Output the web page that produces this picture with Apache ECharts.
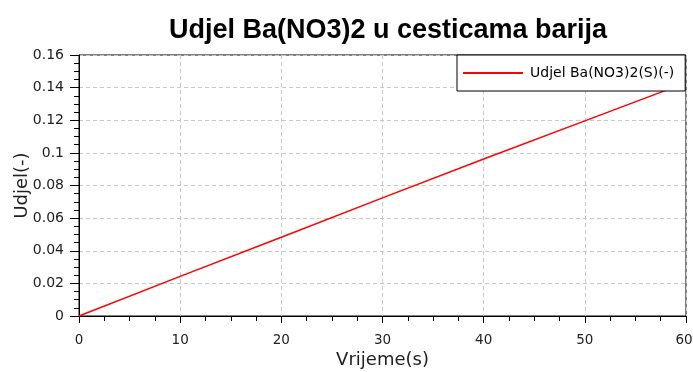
<!DOCTYPE html>
<html>
<head>
<meta charset="utf-8">
<script src="https://cdn.jsdelivr.net/npm/echarts@6/dist/echarts.min.js"></script>
<style>
  html, body { margin: 0; padding: 0; background: #fff; }
  #chart { width: 693px; height: 372px; }
</style>
</head>
<body>
<div id="chart"></div>
<script>
// Time (s) and fraction of Ba(NO3)2 in the barium particles
const timeS = [0, 10, 20, 30, 40, 50, 58];
const fraction = [0, 0.0243, 0.0483, 0.0724, 0.0962, 0.1196, 0.1383];
const seriesName = 'Udjel Ba(NO3)2(S)(-)';

const chart = echarts.init(document.getElementById('chart'));
const titleFont = 'Liberation Sans, Arial, sans-serif';
const font = 'DejaVu Sans, Verdana, sans-serif';
const X_MAX = 60;

chart.setOption({
  animation: false,
  title: {
    text: 'Udjel Ba(NO3)2 u cesticama barija',
    left: 383, top: 12, textAlign: 'center',
    textStyle: { fontFamily: titleFont, fontSize: 27, fontWeight: 'bold', color: '#000' }
  },
  legend: {
    data: [seriesName],
    left: 457, top: 55,
    orient: 'vertical',
    backgroundColor: '#fff',
    borderColor: '#000', borderWidth: 1, borderRadius: 0,
    padding: [11, 11, 11, 6],
    itemWidth: 60, itemHeight: 12,
    icon: 'path://M0,5L60,5L60,7L0,7Z',
    textStyle: { fontFamily: font, fontSize: 14, color: '#000', padding: [0, 0, 0, 2] }
  },
  grid: {
    left: 79, right: 7, top: 55, bottom: 56,
    outerBoundsMode: 'none',
    containLabel: false,
    show: true, borderColor: '#000', borderWidth: 1, backgroundColor: '#fff'
  },
  xAxis: {
    type: 'value', min: 0, max: X_MAX, interval: 10,
    name: 'Vrijeme(s)', nameLocation: 'middle', nameGap: 35,
    nameMoveOverlap: false,
    nameTextStyle: { fontFamily: font, fontSize: 18, color: '#222' },
    axisLine: { lineStyle: { color: '#000', width: 1 } },
    axisTick: { show: true, length: 7, lineStyle: { color: '#000' } },
    minorTick: { show: true, splitNumber: 4, length: 5, lineStyle: { color: '#000' } },
    axisLabel: {
      fontFamily: font, fontSize: 13.5, color: '#222', margin: 17,
      // keep the last label inside the canvas edge
      formatter: v => (v === X_MAX ? '{last|' + v + '}' : String(v)),
      rich: { last: { fontFamily: font, fontSize: 13.5, color: '#222', padding: [0, 4, 0, 0] } }
    },
    splitLine: { show: true, lineStyle: { color: '#c8c8c8', type: [4, 3] } }
  },
  yAxis: {
    type: 'value', min: 0, max: 0.16, interval: 0.02,
    name: 'Udjel(-)', nameLocation: 'middle', nameGap: 48, nameRotate: 90,
    nameMoveOverlap: false,
    nameTextStyle: { fontFamily: font, fontSize: 18, color: '#222' },
    axisLine: { show: true, lineStyle: { color: '#000', width: 1 } },
    axisTick: { show: true, length: 9, lineStyle: { color: '#000' } },
    minorTick: { show: true, splitNumber: 4, length: 5, lineStyle: { color: '#000' } },
    axisLabel: { fontFamily: font, fontSize: 14, color: '#222', margin: 15,
      formatter: v => String(parseFloat(v.toFixed(2))) },
    splitLine: { show: true, lineStyle: { color: '#c8c8c8', type: [4, 3] } }
  },
  series: [{
    name: seriesName,
    type: 'line',
    data: timeS.map((t, i) => [t, fraction[i]]),
    showSymbol: false,
    color: '#ff0000',
    lineStyle: { color: '#ff0000', width: 1.5 }
  }]
});
</script>
</body>
</html>
